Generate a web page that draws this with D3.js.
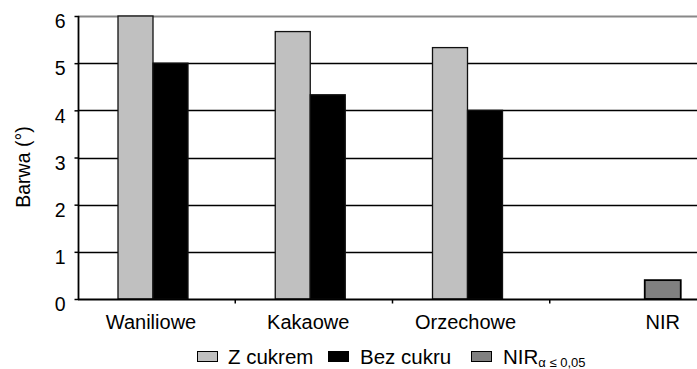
<!DOCTYPE html>
<html>
<head>
<meta charset="utf-8">
<script src="https://cdn.jsdelivr.net/npm/d3@7"></script>
<style>
  body { margin: 0; background: #fff; }
  svg { display: block; font-family: "Liberation Sans", Arial, sans-serif; }
</style>
</head>
<body>
<div id="graph"></div>
<script>
var categories = ['Waniliowe', 'Kakaowe', 'Orzechowe', 'NIR']
var series = ['Z cukrem', 'Bez cukru']
var zCukrem = [6.0, 5.67, 5.33]
var bezCukru = [5.0, 4.33, 4.0]
var nir = 0.4
var yTicks = [0, 1, 2, 3, 4, 5, 6]

var width = 697, height = 369
var colors = {'Z cukrem': '#c0c0c0', 'Bez cukru': '#000', 'NIR': '#808080'}

var svg = d3.select('#graph').append('svg')
  .attr('width', width).attr('height', height)

var x = d3.scaleBand().domain(categories).range([78, 707])
var y = d3.scaleLinear().domain([0, 6]).range([299, 16])

// bars inside a category
var inner = d3.scaleBand().domain(series).range([40, 110])
var nirOffset = 95, nirWidth = 36

var rows = []
categories.slice(0, 3).forEach((c, i) => {
  rows.push({cat: c, s: 'Z cukrem', v: zCukrem[i]})
  rows.push({cat: c, s: 'Bez cukru', v: bezCukru[i]})
})

// gridlines
svg.append('g').selectAll('line')
  .data(yTicks.filter(d => d > 0))
  .join('line')
  .attr('x1', 78).attr('x2', width)
  .attr('y1', d => Math.round(y(d)) + .5).attr('y2', d => Math.round(y(d)) + .5)
  .attr('stroke', d => d == 6 ? '#888' : '#000')
  .attr('stroke-width', d => d == 6 ? 1.8 : 1.5)

svg.append('g').selectAll('rect')
  .data(rows)
  .join('rect')
  .attr('x', d => x(d.cat) + inner(d.s))
  .attr('width', inner.bandwidth())
  .attr('y', d => y(d.v))
  .attr('height', d => y(0) - y(d.v))
  .attr('fill', d => colors[d.s])
  .attr('stroke', '#111').attr('stroke-width', 1.3)

svg.append('rect')
  .attr('x', x('NIR') + nirOffset)
  .attr('width', nirWidth)
  .attr('y', y(nir))
  .attr('height', y(0) - y(nir))
  .attr('fill', colors.NIR)
  .attr('stroke', '#000').attr('stroke-width', 1.8)

// axes
var yAxis = svg.append('g')
  .attr('transform', 'translate(78.5,0)')
  .call(d3.axisLeft(y).tickValues(yTicks).tickSize(4).tickPadding(9).tickFormat(d3.format('d')))
yAxis.select('.domain').remove()
yAxis.append('line').attr('y1', y(6)).attr('y2', y(0)).attr('stroke', '#000').attr('stroke-width', 1.8)
yAxis.selectAll('.tick line').attr('stroke', '#000').attr('stroke-width', 1.5)
yAxis.selectAll('text').attr('font-size', 19.5).attr('fill', '#000').attr('dy', '0.55em')
yAxis.selectAll('.tick text').attr('y', 1)

var xAxis = svg.append('g').attr('transform', 'translate(0,' + (Math.round(y(0)) + .5) + ')')
xAxis.append('line').attr('x1', 78).attr('x2', width).attr('stroke', '#000').attr('stroke-width', 1.8)
xAxis.selectAll('.tk')
  .data(categories.slice(1))
  .join('line')
  .attr('x1', d => x(d)).attr('x2', d => x(d))
  .attr('y1', 0).attr('y2', 4)
  .attr('stroke', '#000').attr('stroke-width', 1.5)

xAxis.selectAll('text')
  .data(categories)
  .join('text')
  .attr('x', d => d == 'NIR' ? x(d) + nirOffset + nirWidth / 2 : x(d) + inner.range()[0] + inner.bandwidth() - 2)
  .attr('y', 29)
  .attr('text-anchor', 'middle')
  .attr('font-size', 20)
  .text(d => d)

svg.append('text')
  .attr('transform', 'translate(30,167) rotate(-90)')
  .attr('text-anchor', 'middle')
  .attr('font-size', 19.5)
  .text('Barwa (°)')

// legend
var legend = [
  {name: 'Z cukrem', sw: 197, tx: 228},
  {name: 'Bez cukru', sw: 328, tx: 360},
  {name: 'NIR', sw: 471, tx: 503}
]
var lg = svg.append('g').selectAll('g').data(legend).join('g')
lg.append('rect')
  .attr('x', d => d.sw + .5).attr('y', 351.5)
  .attr('width', 20).attr('height', 10)
  .attr('fill', d => colors[d.name])
  .attr('stroke', '#000').attr('stroke-width', 1)
var lt = lg.append('text')
  .attr('x', d => d.tx).attr('y', 364)
  .attr('font-size', 20.5)
  .text(d => d.name)
lt.filter(d => d.name == 'NIR')
  .append('tspan')
  .attr('font-size', 13)
  .attr('dy', 3)
  .text('α ≤ 0,05')
</script>
</body>
</html>
